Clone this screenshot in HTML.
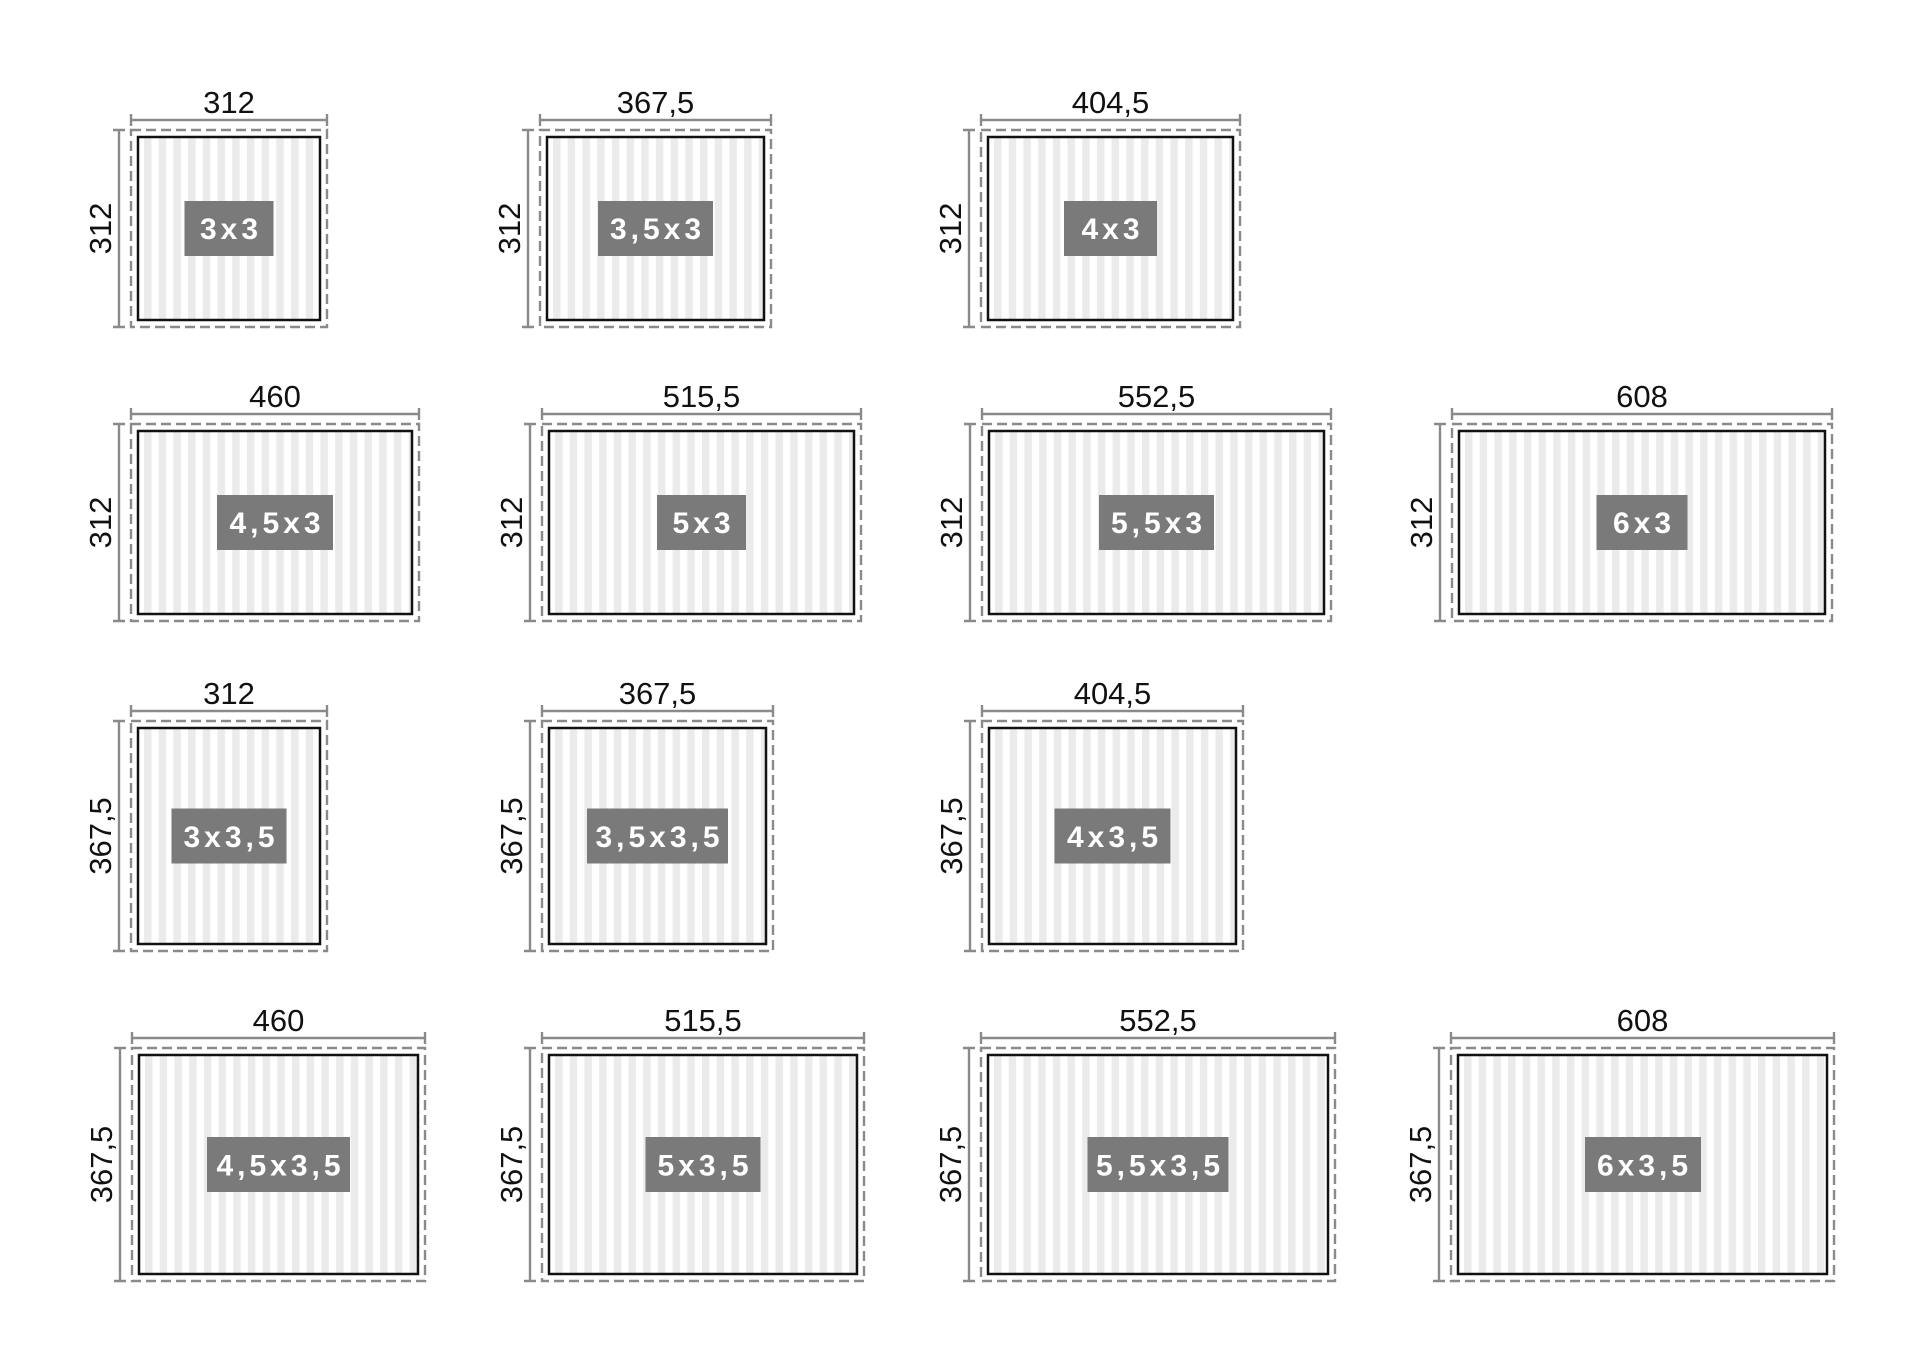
<!DOCTYPE html>
<html><head><meta charset="utf-8"><style>
html,body{margin:0;padding:0;background:#fff;}
svg{display:block;}
.d{fill:none;stroke:#8a8a8a;stroke-width:2.4;stroke-dasharray:10 5;}
.s{fill:url(#p);stroke:#111;stroke-width:2.5;}
.m{fill:none;stroke:#8a8a8a;stroke-width:2.4;}
.t{font-family:"Liberation Sans",sans-serif;font-size:31px;fill:#111;text-anchor:middle;}
.l{fill:#7a7a7a;}
.lt{font-family:"Liberation Sans",sans-serif;font-size:30px;font-weight:bold;fill:#fff;text-anchor:middle;letter-spacing:4px;}
</style></head><body>
<svg width="1920" height="1365" viewBox="0 0 1920 1365" xmlns="http://www.w3.org/2000/svg">
<defs><pattern id="p" patternUnits="userSpaceOnUse" x="13" y="0" width="14.7" height="10"><rect x="0" y="0" width="7.5" height="10" fill="#ebebeb"/></pattern></defs>

<g transform="translate(131,130)"><rect class="d" width="196" height="197"/><rect class="s" x="7" y="7" width="182" height="183"/><path class="m" d="M0 -10H196M0 -16V-4M196 -16V-4M-12 0V197M-18 0H-6M-18 197H-6"/><text class="t" x="98" y="-17">312</text><text class="t" transform="translate(-20,98.5) rotate(-90)">312</text><rect class="l" x="53.5" y="71" width="89" height="55"/><text class="lt" x="100" y="109">3x3</text></g>

<g transform="translate(540,130)"><rect class="d" width="231" height="197"/><rect class="s" x="7" y="7" width="217" height="183"/><path class="m" d="M0 -10H231M0 -16V-4M231 -16V-4M-12 0V197M-18 0H-6M-18 197H-6"/><text class="t" x="115.5" y="-17">367,5</text><text class="t" transform="translate(-20,98.5) rotate(-90)">312</text><rect class="l" x="58" y="71" width="115" height="55"/><text class="lt" x="117.5" y="109">3,5x3</text></g>

<g transform="translate(981,130)"><rect class="d" width="259" height="197"/><rect class="s" x="7" y="7" width="245" height="183"/><path class="m" d="M0 -10H259M0 -16V-4M259 -16V-4M-12 0V197M-18 0H-6M-18 197H-6"/><text class="t" x="129.5" y="-17">404,5</text><text class="t" transform="translate(-20,98.5) rotate(-90)">312</text><rect class="l" x="83" y="71" width="93" height="55"/><text class="lt" x="131.5" y="109">4x3</text></g>

<g transform="translate(131,424)"><rect class="d" width="288" height="197"/><rect class="s" x="7" y="7" width="274" height="183"/><path class="m" d="M0 -10H288M0 -16V-4M288 -16V-4M-12 0V197M-18 0H-6M-18 197H-6"/><text class="t" x="144" y="-17">460</text><text class="t" transform="translate(-20,98.5) rotate(-90)">312</text><rect class="l" x="86" y="71" width="116" height="55"/><text class="lt" x="146" y="109">4,5x3</text></g>

<g transform="translate(542,424)"><rect class="d" width="319" height="197"/><rect class="s" x="7" y="7" width="305" height="183"/><path class="m" d="M0 -10H319M0 -16V-4M319 -16V-4M-12 0V197M-18 0H-6M-18 197H-6"/><text class="t" x="159.5" y="-17">515,5</text><text class="t" transform="translate(-20,98.5) rotate(-90)">312</text><rect class="l" x="115" y="71" width="89" height="55"/><text class="lt" x="161.5" y="109">5x3</text></g>

<g transform="translate(982,424)"><rect class="d" width="349" height="197"/><rect class="s" x="7" y="7" width="335" height="183"/><path class="m" d="M0 -10H349M0 -16V-4M349 -16V-4M-12 0V197M-18 0H-6M-18 197H-6"/><text class="t" x="174.5" y="-17">552,5</text><text class="t" transform="translate(-20,98.5) rotate(-90)">312</text><rect class="l" x="117" y="71" width="115" height="55"/><text class="lt" x="176.5" y="109">5,5x3</text></g>

<g transform="translate(1452,424)"><rect class="d" width="380" height="197"/><rect class="s" x="7" y="7" width="366" height="183"/><path class="m" d="M0 -10H380M0 -16V-4M380 -16V-4M-12 0V197M-18 0H-6M-18 197H-6"/><text class="t" x="190" y="-17">608</text><text class="t" transform="translate(-20,98.5) rotate(-90)">312</text><rect class="l" x="144.5" y="71" width="91" height="55"/><text class="lt" x="192" y="109">6x3</text></g>

<g transform="translate(131,721)"><rect class="d" width="196" height="230"/><rect class="s" x="7" y="7" width="182" height="216"/><path class="m" d="M0 -10H196M0 -16V-4M196 -16V-4M-12 0V230M-18 0H-6M-18 230H-6"/><text class="t" x="98" y="-17">312</text><text class="t" transform="translate(-20,115) rotate(-90)">367,5</text><rect class="l" x="40.5" y="87.5" width="115" height="55"/><text class="lt" x="100" y="126">3x3,5</text></g>

<g transform="translate(542,721)"><rect class="d" width="231" height="230"/><rect class="s" x="7" y="7" width="217" height="216"/><path class="m" d="M0 -10H231M0 -16V-4M231 -16V-4M-12 0V230M-18 0H-6M-18 230H-6"/><text class="t" x="115.5" y="-17">367,5</text><text class="t" transform="translate(-20,115) rotate(-90)">367,5</text><rect class="l" x="45" y="87.5" width="141" height="55"/><text class="lt" x="117.5" y="126">3,5x3,5</text></g>

<g transform="translate(982,721)"><rect class="d" width="261" height="230"/><rect class="s" x="7" y="7" width="247" height="216"/><path class="m" d="M0 -10H261M0 -16V-4M261 -16V-4M-12 0V230M-18 0H-6M-18 230H-6"/><text class="t" x="130.5" y="-17">404,5</text><text class="t" transform="translate(-20,115) rotate(-90)">367,5</text><rect class="l" x="72.5" y="87.5" width="116" height="55"/><text class="lt" x="132.5" y="126">4x3,5</text></g>

<g transform="translate(132,1048)"><rect class="d" width="293" height="233"/><rect class="s" x="7" y="7" width="279" height="219"/><path class="m" d="M0 -10H293M0 -16V-4M293 -16V-4M-12 0V233M-18 0H-6M-18 233H-6"/><text class="t" x="146.5" y="-17">460</text><text class="t" transform="translate(-20,116.5) rotate(-90)">367,5</text><rect class="l" x="75" y="89" width="143" height="55"/><text class="lt" x="148.5" y="127.5">4,5x3,5</text></g>

<g transform="translate(542,1048)"><rect class="d" width="322" height="233"/><rect class="s" x="7" y="7" width="308" height="219"/><path class="m" d="M0 -10H322M0 -16V-4M322 -16V-4M-12 0V233M-18 0H-6M-18 233H-6"/><text class="t" x="161" y="-17">515,5</text><text class="t" transform="translate(-20,116.5) rotate(-90)">367,5</text><rect class="l" x="103.5" y="89" width="115" height="55"/><text class="lt" x="163" y="127.5">5x3,5</text></g>

<g transform="translate(981,1048)"><rect class="d" width="354" height="233"/><rect class="s" x="7" y="7" width="340" height="219"/><path class="m" d="M0 -10H354M0 -16V-4M354 -16V-4M-12 0V233M-18 0H-6M-18 233H-6"/><text class="t" x="177" y="-17">552,5</text><text class="t" transform="translate(-20,116.5) rotate(-90)">367,5</text><rect class="l" x="106.5" y="89" width="141" height="55"/><text class="lt" x="179" y="127.5">5,5x3,5</text></g>

<g transform="translate(1451,1048)"><rect class="d" width="383" height="233"/><rect class="s" x="7" y="7" width="369" height="219"/><path class="m" d="M0 -10H383M0 -16V-4M383 -16V-4M-12 0V233M-18 0H-6M-18 233H-6"/><text class="t" x="191.5" y="-17">608</text><text class="t" transform="translate(-20,116.5) rotate(-90)">367,5</text><rect class="l" x="134" y="89" width="116" height="55"/><text class="lt" x="193.5" y="127.5">6x3,5</text></g>
</svg>
</body></html>
